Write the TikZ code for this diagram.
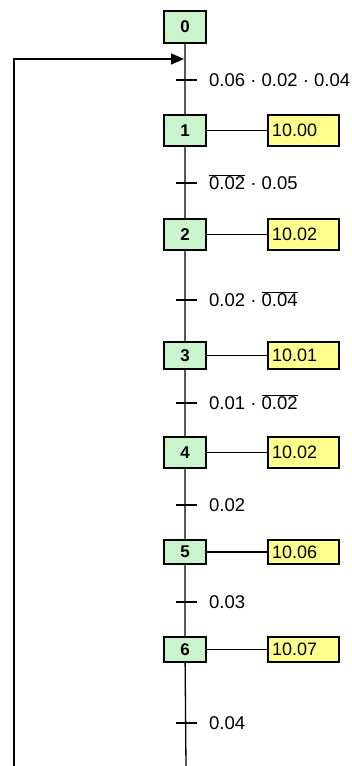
\documentclass[tikz,border=0pt]{standalone}
\usepackage{fontspec}
\setmainfont{Liberation Sans}
\usepackage{tikz}
\usetikzlibrary{arrows.meta}
\definecolor{stepgreen}{RGB}{204,244,204}
\definecolor{actyellow}{RGB}{255,255,140}
\tikzset{stepbox/.style={draw,fill=stepgreen,line width=1.2pt,minimum width=42pt,inner sep=0pt,
   font=\fontsize{17}{19}\selectfont\bfseries},
 actbox/.style={draw,fill=actyellow,line width=1.2pt,text width=63pt,align=left,inner xsep=4pt,inner ysep=0pt,
   font=\fontsize{18}{20}\selectfont},
 cond/.style={anchor=base west,inner sep=0pt,xshift=23pt,yshift=-6.5pt,font=\fontsize{18.5}{21}\selectfont},
 link/.style={line width=1.3pt},
 tick/.style={line width=1.3pt},
 }
\newcommand{\ovl}[1]{$\overline{\hbox{#1}}$}

\begin{document}
\begin{tikzpicture}[x=1pt,y=-1pt]
        \useasboundingbox (0,0) rectangle (351,766);
        \node[stepbox,minimum height=32pt] (s0) at (185,27) {0};
        \node[stepbox,minimum height=31pt] (s1) at (185,130.5) {1};
        \node[stepbox,minimum height=31pt] (s2) at (185,234.5) {2};
        \node[stepbox,minimum height=27pt] (s3) at (185,355.5) {3};
        \node[stepbox,minimum height=31pt] (s4) at (185,452.5) {4};
        \node[stepbox,minimum height=24pt] (s5) at (185,552) {5};
        \node[stepbox,minimum height=25pt] (s6) at (185,649.5) {6};
        \node[actbox,minimum height=31pt] (a1) at (303.5,130.5) {10.00};
        \node[actbox,minimum height=31pt] (a2) at (303.5,234.5) {10.02};
        \node[actbox,minimum height=27pt] (a3) at (303.5,355.5) {10.01};
        \node[actbox,minimum height=31pt] (a4) at (303.5,452.5) {10.02};
        \node[actbox,minimum height=24pt] (a5) at (303.5,552) {10.06};
        \node[actbox,minimum height=25pt] (a6) at (303.5,649.5) {10.07};
        \coordinate (t1) at (186,80);
        \coordinate (t2) at (186,183);
        \coordinate (t3) at (186,300);
        \coordinate (t4) at (186,403);
        \coordinate (t5) at (186,505);
        \coordinate (t6) at (186,602);
        \coordinate (t7) at (186,723);
        \coordinate (bot) at (186,767);
        \coordinate (lb) at (14,767);
        \coordinate (in) at (184,59);
        \draw[link] (s0) -- (s1) -- (s2) -- (s3) -- (s4) -- (s5) -- (s6) -- (bot);
        \draw[link,-{Triangle[length=13pt,width=11pt]}] (lb) |- (in);
        \draw[link] (s1) -- (a1);
        \draw[link] (s2) -- (a2);
        \draw[link] (s3) -- (a3);
        \draw[link] (s4) -- (a4);
        \draw[link] (s5) -- (a5);
        \draw[link] (s6) -- (a6);
        \draw[tick] ([xshift=-10pt]t1) -- ([xshift=11pt]t1);
        \draw[tick] ([xshift=-10pt]t2) -- ([xshift=11pt]t2);
        \draw[tick] ([xshift=-10pt]t3) -- ([xshift=11pt]t3);
        \draw[tick] ([xshift=-10pt]t4) -- ([xshift=11pt]t4);
        \draw[tick] ([xshift=-10pt]t5) -- ([xshift=11pt]t5);
        \draw[tick] ([xshift=-10pt]t6) -- ([xshift=11pt]t6);
        \draw[tick] ([xshift=-10pt]t7) -- ([xshift=11pt]t7);
        \node[cond] (c1) at (t1) {0.06 · 0.02 · 0.04};
        \node[cond] (c2) at (t2) {\ovl{0.02} · 0.05};
        \node[cond] (c3) at (t3) {0.02 · \ovl{0.04}};
        \node[cond] (c4) at (t4) {0.01 · \ovl{0.02}};
        \node[cond] (c5) at (t5) {0.02};
        \node[cond] (c6) at (t6) {0.03};
        \node[cond] (c7) at (t7) {0.04};
    \end{tikzpicture}
\end{document}
